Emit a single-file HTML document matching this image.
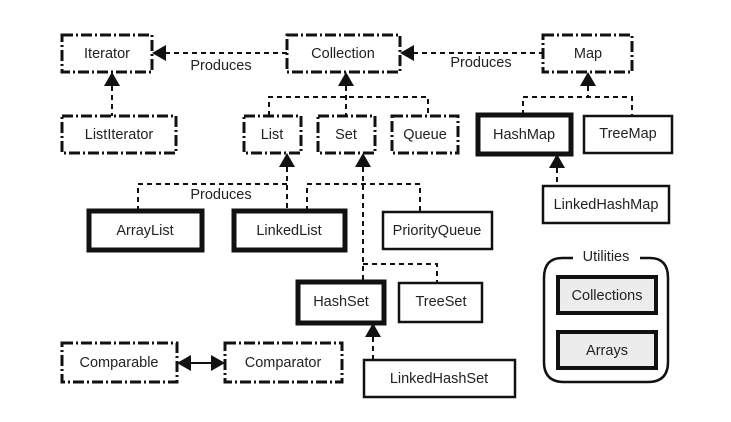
<!DOCTYPE html>
<html><head><meta charset="utf-8"><style>
html,body{margin:0;padding:0;background:#fff;}
svg{display:block;}
text{font-family:"Liberation Sans",Arial,sans-serif;font-size:14.5px;fill:#222;text-anchor:middle;dominant-baseline:central;}
.i{fill:#fff;stroke:#111;stroke-width:3;stroke-dasharray:11,3,2,3;}
.c{fill:#fff;stroke:#111;stroke-width:2.5;}
.t{fill:#fff;stroke:#111;stroke-width:5;}
.u{fill:#ececec;stroke:#111;stroke-width:4;}
.d{fill:none;stroke:#111;stroke-width:2;stroke-dasharray:5,4;}
.a{fill:#111;}
</style></head><body>
<svg width="731" height="422" viewBox="0 0 731 422">
<line class="d" x1="165" y1="53" x2="287" y2="53"/>
<polygon class="a" points="152,53 166,45 166,61"/>
<text x="221" y="66">Produces</text>
<line class="d" x1="413" y1="53" x2="543" y2="53"/>
<polygon class="a" points="400,53 414,45 414,61"/>
<text x="481" y="63">Produces</text>

<line class="d" x1="112" y1="86" x2="112" y2="116"/>
<polygon class="a" points="112,72 104,86 120,86"/>

<polyline class="d" points="269,116 269,97 428,97 428,116"/>
<line class="d" x1="346" y1="86" x2="346" y2="116"/>
<polygon class="a" points="346,72 338,86 354,86"/>

<polyline class="d" points="523,115 523,97 632,97 632,116"/>
<line class="d" x1="588" y1="86" x2="588" y2="97"/>
<polygon class="a" points="588,72 580,86 596,86"/>

<line class="d" x1="557" y1="168" x2="557" y2="186"/>
<polygon class="a" points="557,154 549,168 565,168"/>

<polyline class="d" points="138,211 138,184 287,184"/>
<line class="d" x1="287" y1="167" x2="287" y2="211"/>
<polygon class="a" points="287,153 279,167 295,167"/>
<text x="221" y="195">Produces</text>

<polyline class="d" points="307,211 307,184 420,184 420,212"/>
<line class="d" x1="363" y1="167" x2="363" y2="282"/>
<polygon class="a" points="363,153 355,167 371,167"/>
<polyline class="d" points="363,264 437,264 437,283"/>

<line class="d" x1="373" y1="337" x2="373" y2="360"/>
<polygon class="a" points="373,323 365,337 381,337"/>

<line x1="190" y1="363" x2="212" y2="363" stroke="#111" stroke-width="2"/>
<polygon class="a" points="177,363 191,355 191,371"/>
<polygon class="a" points="225,363 211,355 211,371"/>

<rect class="i" x="62" y="35" width="90" height="37"/><text x="107" y="54">Iterator</text>
<rect class="i" x="287" y="35" width="113" height="37"/><text x="343" y="54">Collection</text>
<rect class="i" x="543" y="35" width="89" height="37"/><text x="588" y="54">Map</text>
<rect class="i" x="62" y="116" width="114" height="37"/><text x="119" y="135">ListIterator</text>
<rect class="i" x="244" y="116" width="57" height="37"/><text x="272" y="135">List</text>
<rect class="i" x="318" y="116" width="57" height="37"/><text x="346" y="135">Set</text>
<rect class="i" x="392" y="116" width="66" height="37"/><text x="425" y="135">Queue</text>
<rect class="i" x="62" y="343" width="115" height="39"/><text x="119" y="363">Comparable</text>
<rect class="i" x="225" y="343" width="117" height="39"/><text x="283" y="363">Comparator</text>

<rect class="t" x="478" y="115" width="93" height="39"/><text x="524" y="135">HashMap</text>
<rect class="c" x="584" y="116" width="88" height="37"/><text x="628" y="134">TreeMap</text>
<rect class="c" x="543" y="186" width="126" height="37"/><text x="606" y="205">LinkedHashMap</text>
<rect class="t" x="89" y="211" width="113" height="39"/><text x="145" y="231">ArrayList</text>
<rect class="t" x="234" y="211" width="111" height="39"/><text x="289" y="231">LinkedList</text>
<rect class="c" x="383" y="212" width="109" height="37"/><text x="437" y="231">PriorityQueue</text>
<rect class="t" x="298" y="282" width="86" height="41"/><text x="341" y="302">HashSet</text>
<rect class="c" x="399" y="283" width="83" height="39"/><text x="441" y="302">TreeSet</text>
<rect class="c" x="364" y="360" width="151" height="37"/><text x="439" y="379">LinkedHashSet</text>

<path d="M573,258 L562,258 Q544,258 544,278 L544,362 Q544,382 564,382 L648,382 Q668,382 668,362 L668,278 Q668,258 650,258 L640,258" fill="none" stroke="#111" stroke-width="2.5"/>
<text x="606" y="257">Utilities</text>
<rect class="u" x="558" y="277" width="98" height="36"/><text x="607" y="296">Collections</text>
<rect class="u" x="558" y="332" width="98" height="36"/><text x="607" y="351">Arrays</text>
</svg>
</body></html>
